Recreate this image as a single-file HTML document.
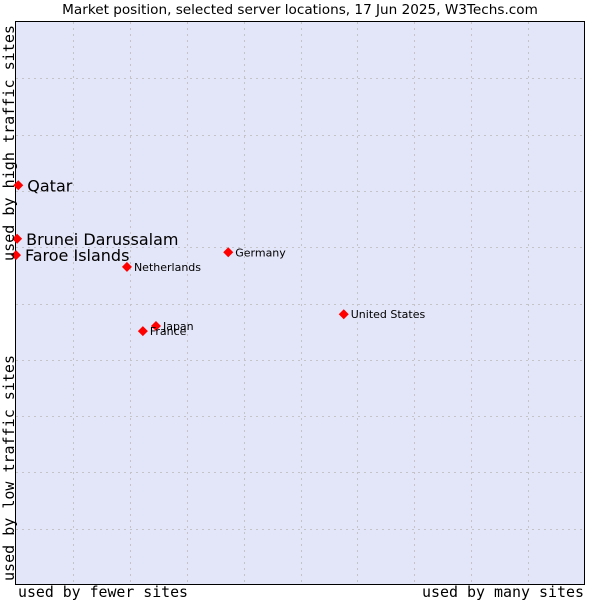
<!DOCTYPE html>
<html><head><meta charset="utf-8"><style>
body{margin:0;background:#fff;}
svg{display:block;font-family:"DejaVu Sans","Liberation Sans",sans-serif;}
</style></head><body>
<svg id="c" width="600" height="600">
<text x="300" y="14" text-anchor="middle" font-size="13.6" fill="#000">Market position, selected server locations, 17 Jun 2025, W3Techs.com</text>
<rect x="15.5" y="21.5" width="569" height="563" fill="#e3e5f8" stroke="#000"/>
<g id="grid"></g>
<g id="pts"></g>
<text x="18" y="597" font-family="DejaVu Sans Mono, monospace" font-size="15" textLength="170" lengthAdjust="spacingAndGlyphs">used by fewer sites</text>
<text x="584" y="597" text-anchor="end" font-family="DejaVu Sans Mono, monospace" font-size="15" textLength="162" lengthAdjust="spacingAndGlyphs">used by many sites</text>
<text transform="translate(14,581) rotate(-90)" font-family="DejaVu Sans Mono, monospace" font-size="15" textLength="226" lengthAdjust="spacingAndGlyphs">used by low traffic sites</text>
<text transform="translate(14,261) rotate(-90)" font-family="DejaVu Sans Mono, monospace" font-size="15" textLength="236" lengthAdjust="spacingAndGlyphs">used by high traffic sites</text>
</svg>
<script>
const countries=["Qatar","Brunei Darussalam","Faroe Islands","Netherlands","Germany","United States","Japan","France"];
const xValues=[0.4,0.2,0,19.5,37.3,57.6,24.6,22.3];
const yValues=[71.0,61.5,58.6,56.5,59.1,48.1,46.0,45.1];
const highlighted=[true,true,true,false,false,false,false,false];
const L=16,R=585,T=22,B=585;
const sx=v=>L+v/100*(R-L), sy=v=>B-v/100*(B-T);
const NS="http://www.w3.org/2000/svg";
const grid=document.getElementById('grid'), pts=document.getElementById('pts');
for(let i=1;i<10;i++){
  const gx=document.createElementNS(NS,'line');
  
  
  const x=Math.round(sx(i*10))+0.5;
  gx.setAttribute('x1',x);gx.setAttribute('x2',x);gx.setAttribute('y1',T);gx.setAttribute('y2',B);
  gx.setAttribute('stroke','#c4c4c8');gx.setAttribute('stroke-dasharray','2,4');
  grid.appendChild(gx);
  const gy=document.createElementNS(NS,'line');
  
  
  const y=Math.round(sy(i*10))+0.5;
  gy.setAttribute('y1',y);gy.setAttribute('y2',y);gy.setAttribute('x1',L);gy.setAttribute('x2',R);
  gy.setAttribute('stroke','#c4c4c8');gy.setAttribute('stroke-dasharray','2,4');
  grid.appendChild(gy);
}
countries.forEach((c,i)=>{
  const x=sx(xValues[i]),y=sy(yValues[i]);
  const m=document.createElementNS(NS,'polygon');
  
  
  m.setAttribute('points',`${x},${y-5} ${x+5},${y} ${x},${y+5} ${x-5},${y}`);
  m.setAttribute('fill','#ff0000');
  pts.appendChild(m);
  const t=document.createElementNS(NS,'text');
  
  
  const big=highlighted[i];
  t.setAttribute('x',x+(big?9:7));
  t.setAttribute('y',y+(big?6:4));
  t.setAttribute('font-size',big?16:11);
  t.setAttribute('fill','#000');
  t.textContent=c;
  pts.appendChild(t);
});
</script>
</body></html>
